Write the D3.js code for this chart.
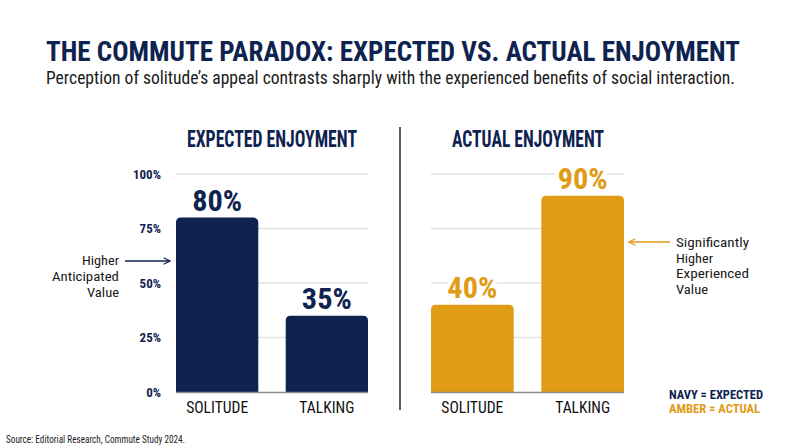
<!DOCTYPE html>
<html><head><meta charset="utf-8">
<script src="https://cdn.jsdelivr.net/npm/d3@7/dist/d3.min.js"></script>
<style>
html,body{margin:0;padding:0;background:#fff;}
svg{display:block;}
text{font-family:"Roboto Condensed","Liberation Sans Narrow","DejaVu Sans Condensed",Roboto,sans-serif;}
</style></head>
<body>
<svg id="chart" width="800" height="447"></svg>
<script>
const categories = ["SOLITUDE", "TALKING"];
const expectedValues = [80, 35];
const actualValues = [40, 90];
const tickValues = [0, 25, 50, 75, 100];
const tickLabels = ["0%", "25%", "50%", "75%", "100%"];
const panelTitles = ["EXPECTED ENJOYMENT", "ACTUAL ENJOYMENT"];
const legendLabels = ["NAVY = EXPECTED", "AMBER = ACTUAL"];
const leftNote = ["Higher", "Anticipated", "Value"];
const rightNote = ["Significantly", "Higher", "Experienced", "Value"];

const NAVY = "#0f2350", AMBER = "#e09b17";
const svg = d3.select("#chart");

function fit(t, w){ t.attr("textLength", w).attr("lengthAdjust", "spacingAndGlyphs"); return t; }

// Title & subtitle
fit(svg.append("text").attr("x", 46).attr("y", 61).attr("font-size", 28.5).attr("font-weight", 700)
  .attr("fill", NAVY).text("THE COMMUTE PARADOX: EXPECTED VS. ACTUAL ENJOYMENT"), 694);
fit(svg.append("text").attr("x", 46).attr("y", 83.5).attr("font-size", 18).attr("fill", "#1a1a1a")
  .text("Perception of solitude\u2019s appeal contrasts sharply with the experienced benefits of social interaction."), 689);

const y = d3.scaleLinear().domain([0, 100]).range([392, 174]);

const panels = [
  {x0: 176, x1: 368, values: expectedValues, color: NAVY, title: panelTitles[0], titleX: 272, titleW: 170, ticks: true},
  {x0: 431, x1: 624, values: actualValues, color: AMBER, title: panelTitles[1], titleX: 528, titleW: 152, ticks: false}
];

panels.forEach(p => {
  const g = svg.append("g");
  const x = d3.scaleBand().domain(categories).range([p.x0, p.x1]).paddingInner(0.25).paddingOuter(0);
  // gridlines
  g.selectAll(".grid").data(tickValues.filter(v => v > 0)).join("line")
    .attr("x1", p.x0).attr("x2", p.x1).attr("y1", d => y(d)).attr("y2", d => y(d))
    .attr("stroke", "#e2e2e2").attr("stroke-width", 1.5);
  // ticks
  if (p.ticks) {
    const ax = g.append("g").attr("transform", `translate(${p.x0 - 12},0)`)
      .call(d3.axisLeft(y).tickValues(tickValues).tickFormat((d, i) => tickLabels[i]).tickSize(0));
    ax.select(".domain").remove();
    ax.selectAll("text").attr("font-size", 13).attr("font-weight", 700).attr("fill", NAVY)
      .style("font-family", '"Roboto Condensed","Liberation Sans Narrow","DejaVu Sans Condensed",Roboto,sans-serif');
  }
  // bars with rounded top
  g.selectAll(".bar").data(p.values).join("path")
    .attr("fill", p.color)
    .attr("d", (d, i) => {
      const bx = x(categories[i]), bw = x.bandwidth(), by = y(d), b0 = y(0), r = 5;
      return `M${bx},${b0}V${by + r}Q${bx},${by} ${bx + r},${by}H${bx + bw - r}Q${bx + bw},${by} ${bx + bw},${by + r}V${b0}Z`;
    });
  // baseline
  g.append("line").attr("x1", p.x0).attr("x2", p.x1).attr("y1", y(0) + 0.5).attr("y2", y(0) + 0.5)
    .attr("stroke", "#8a8a8a").attr("stroke-width", 1.5);
  // value labels with white halo
  g.selectAll(".val").data(p.values).join("text")
    .attr("x", (d, i) => x(categories[i]) + x.bandwidth() / 2)
    .attr("y", d => y(d) - 7)
    .attr("text-anchor", "middle").attr("font-size", 29).attr("font-weight", 700)
    .attr("fill", p.color).attr("stroke", "#fff").attr("stroke-width", 8).attr("paint-order", "stroke")
    .attr("textLength", 50).attr("lengthAdjust", "spacingAndGlyphs")
    .text(d => d + "%");
  // category labels
  g.selectAll(".cat").data(categories).join("text")
    .attr("x", d => x(d) + x.bandwidth() / 2).attr("y", 412.5)
    .attr("text-anchor", "middle").attr("font-size", 17).attr("fill", "#111")
    .attr("textLength", d => d === "SOLITUDE" ? 62 : 55).attr("lengthAdjust", "spacingAndGlyphs")
    .text(d => d);
  // panel title
  fit(g.append("text").attr("x", p.titleX).attr("y", 147).attr("text-anchor", "middle")
    .attr("font-size", 23).attr("font-weight", 700).attr("fill", NAVY).text(p.title), p.titleW);
});

// divider
svg.append("line").attr("x1", 400).attr("x2", 400).attr("y1", 127).attr("y2", 410)
  .attr("stroke", "#565b66").attr("stroke-width", 2);

// arrow markers
const defs = svg.append("defs");
[["arrNavy", NAVY], ["arrAmber", AMBER]].forEach(([id, c]) => {
  defs.append("marker").attr("id", id).attr("viewBox", "0 0 10 10").attr("refX", 9).attr("refY", 5)
    .attr("markerWidth", 8).attr("markerHeight", 8).attr("markerUnits", "userSpaceOnUse").attr("orient", "auto")
    .append("path").attr("d", "M1,1L9,5L1,9").attr("fill", "none").attr("stroke", c).attr("stroke-width", 1.4);
});

// left annotation
svg.append("line").attr("x1", 125).attr("x2", 170).attr("y1", 261).attr("y2", 261)
  .attr("stroke", NAVY).attr("stroke-width", 1.5).attr("marker-end", "url(#arrNavy)");
const lw = [37, 67, 32];
svg.selectAll(".ln").data(leftNote).join("text")
  .attr("x", 119).attr("y", (d, i) => 264.5 + i * 16).attr("text-anchor", "end")
  .attr("font-size", 13.5).attr("fill", "#1a1a1a")
  .attr("textLength", (d, i) => lw[i]).attr("lengthAdjust", "spacingAndGlyphs").text(d => d);

// right annotation
svg.append("line").attr("x1", 670).attr("x2", 629).attr("y1", 242).attr("y2", 242)
  .attr("stroke", AMBER).attr("stroke-width", 1.5).attr("marker-end", "url(#arrAmber)");
const rw = [73, 37, 73, 32];
svg.selectAll(".rn").data(rightNote).join("text")
  .attr("x", 676).attr("y", (d, i) => 247 + i * 15.5)
  .attr("font-size", 13).attr("fill", "#1a1a1a")
  .attr("textLength", (d, i) => rw[i]).attr("lengthAdjust", "spacingAndGlyphs").text(d => d);

// legend
const legW = [94, 91];
svg.selectAll(".leg").data(legendLabels).join("text")
  .attr("x", 669).attr("y", (d, i) => 398.5 + i * 14.5)
  .attr("font-size", 12).attr("font-weight", 700).attr("fill", (d, i) => i === 0 ? NAVY : AMBER)
  .attr("textLength", (d, i) => legW[i]).attr("lengthAdjust", "spacingAndGlyphs").text(d => d);

// source
fit(svg.append("text").attr("x", 6).attr("y", 442.5).attr("font-size", 11).attr("fill", "#222")
  .text("Source: Editorial Research, Commute Study 2024."), 179);
</script>
</body></html>
